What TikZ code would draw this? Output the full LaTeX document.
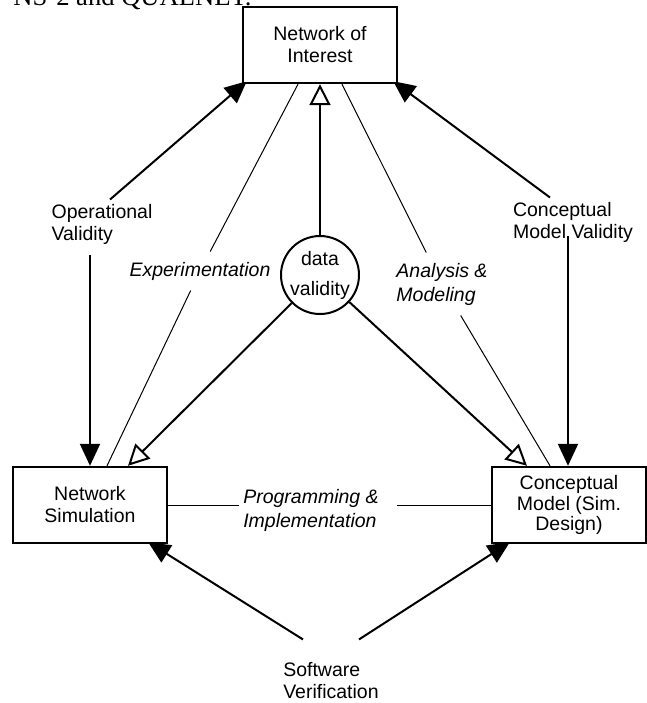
\documentclass[tikz,border=0pt]{standalone}
\usepackage{fontspec}
\setmainfont{Liberation Sans}
\newfontfamily\capfont{Liberation Serif}
\usetikzlibrary{arrows.meta}
\pgfdeclarelayer{back}
\pgfsetlayers{back,main}

\begin{document}
\begin{tikzpicture}[x=0.5pt, y=-0.5pt, >={Triangle[length=11pt, width=10pt]},
	every node/.style={font=\fontsize{9.75}{11}\selectfont},
	box/.style={draw, line width=1.2pt, fill=white, minimum width=77pt, minimum height=38pt, align=center, inner sep=1pt},
	txt/.style={align=left, inner sep=2pt},
	proc/.style={txt, font=\fontsize{9.75}{12}\selectfont\itshape, inner ysep=5pt},
	valid/.style={line width=1pt, ->},
	data/.style={line width=1pt, -{Triangle[open, length=10.5pt, width=10.5pt]}},
	rel/.style={line width=0.5pt}]
	\useasboundingbox (0,0) rectangle (647,703);
	% caption line of the page, cut by the top edge
	\node[anchor=base west, inner sep=0pt, font=\capfont\fontsize{13.3}{15}\selectfont] (cap) at (13,5) {NS-2 and QUALNET.};

	\node[box] (NI) at (320,45) {Network of\\Interest};
	\node[box] (NS) at (90,505) {Network\\Simulation};
	\node[box, font=\fontsize{9.75}{10.25}\selectfont] (CM) at (569,505) {Conceptual\\Model (Sim.\\Design)};

	\node[draw, circle, line width=1pt, fill=white, minimum size=39pt, inner sep=0pt] (DV) at (320,275) {};
	\node[align=center, inner sep=0pt, font=\fontsize{9.75}{15}\selectfont] (DVt) at (DV) {data\\validity};

	\node[txt] (OV) at (102,224) {Operational\\Validity};
	\node[txt] (CMV) at (573,222) {Conceptual\\Model Validity};
	\node[txt] (SV) at (331,681) {Software\\Verification};

	\node[proc] (EX) at (200,271) {Experimentation};
	\node[proc] (AM) at (442,284) {Analysis \&\\Modeling};
	\node[proc, inner ysep=2pt] (PI) at (311,510) {Programming \&\\Implementation};

	\begin{pgfonlayer}{back}
		\fill[white] (0,0) rectangle (647,703);
		% validation arrows
		\draw[valid] ([xshift=4pt]OV.north) -- ([xshift=2.5pt, yshift=1.5pt]NI.south west);
		\draw[valid] ([xshift=-6pt, yshift=-3.5pt]OV.south) -- (NS.north);
		\draw[valid] ([xshift=-11.5pt]CMV.north) -- ([xshift=-2.5pt, yshift=1.5pt]NI.south east);
		\draw[valid] ([xshift=-2.5pt, yshift=5pt]CMV.south) -- ([xshift=-0.5pt]CM.north);
		\draw[valid] ([xshift=-14pt, yshift=9.5pt]SV.north) -- ([xshift=-10pt, yshift=1pt]NS.south east);
		\draw[valid] ([xshift=14pt, yshift=9.5pt]SV.north) -- ([xshift=9.5pt, yshift=1pt]CM.south west);

		% data validity
		\draw[data] (DV) -- (NI.south);
		\draw[data] (DV) -- ([xshift=19pt]NS.north);
		\draw[data] (DV) -- ([xshift=-21pt]CM.north);

		% process lines
		\draw[rel] ([xshift=-11pt]NI.south) -- (EX) -- ([xshift=8.5pt]NS.north);
		\draw[rel] ([xshift=11pt]NI.south) -- (AM) -- ([xshift=-9.5pt]CM.north);
		\draw[rel] (NS.east) -- (NS.east -| PI.west);
		\draw[rel] ([xshift=7pt]NS.east -| PI.east) -- (CM.west);
	\end{pgfonlayer}
\end{tikzpicture}
\end{document}
